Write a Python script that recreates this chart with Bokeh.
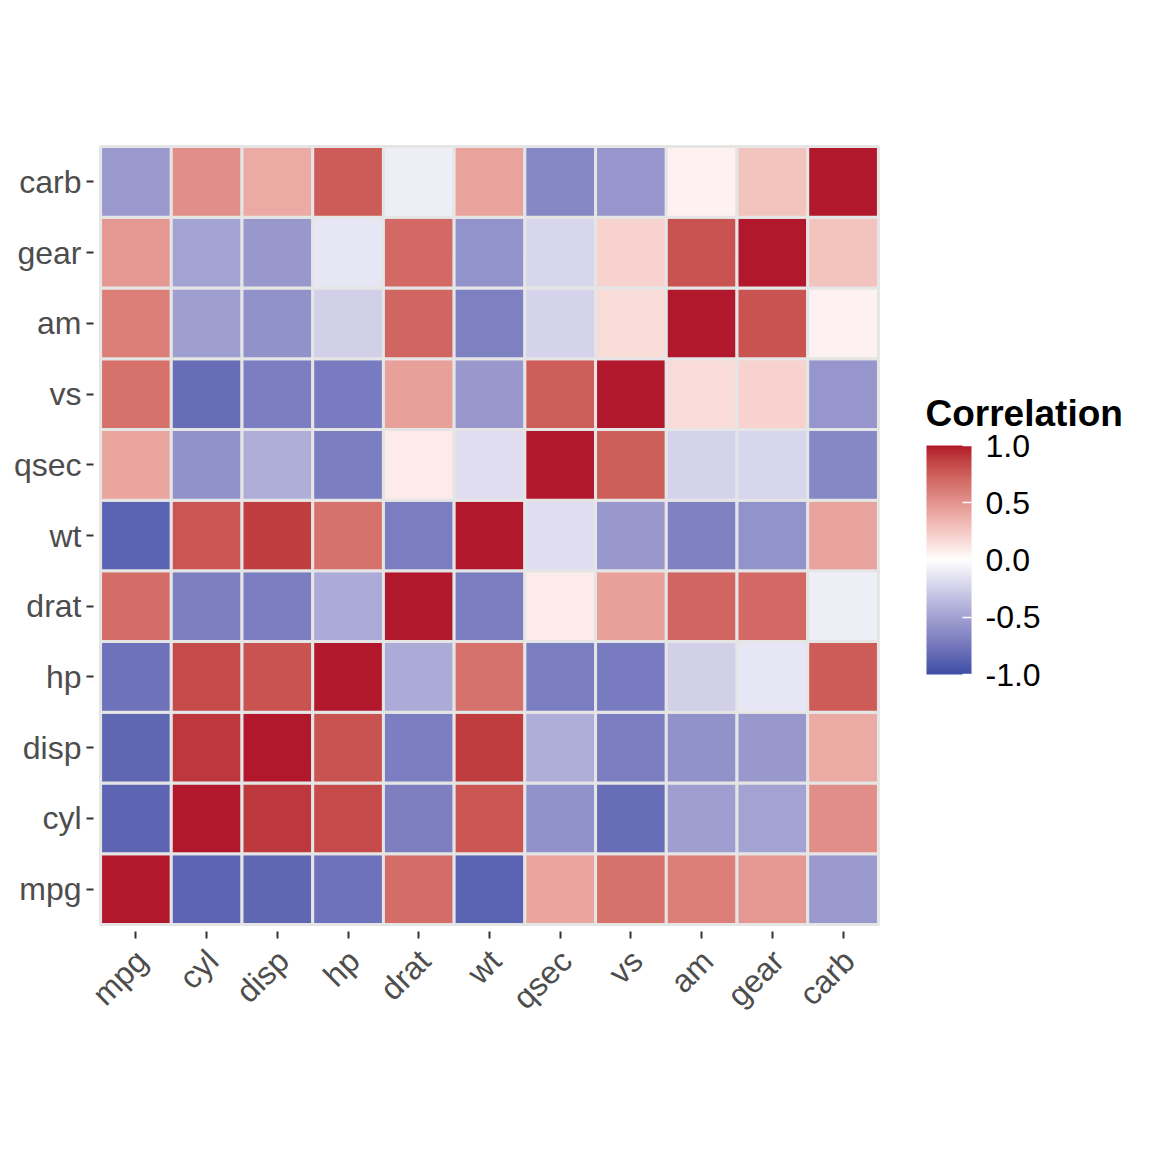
import math
from bokeh.plotting import figure
from bokeh.models import (ColumnDataSource, LinearColorMapper, ColorBar, FixedTicker,
                          PrintfTickFormatter, Range1d, LinearAxis)
from bokeh.transform import transform
from bokeh.embed import file_html
from bokeh.resources import INLINE

variables = ["mpg", "cyl", "disp", "hp", "drat", "wt", "qsec", "vs", "am", "gear", "carb"]
corr = [
    [1.000, -0.852, -0.848, -0.776, 0.681, -0.868, 0.419, 0.664, 0.600, 0.480, -0.551],
    [-0.852, 1.000, 0.902, 0.832, -0.700, 0.782, -0.591, -0.811, -0.523, -0.493, 0.527],
    [-0.848, 0.902, 1.000, 0.791, -0.710, 0.888, -0.434, -0.710, -0.591, -0.556, 0.395],
    [-0.776, 0.832, 0.791, 1.000, -0.449, 0.659, -0.708, -0.723, -0.243, -0.126, 0.750],
    [0.681, -0.700, -0.710, -0.449, 1.000, -0.712, 0.091, 0.440, 0.713, 0.700, -0.091],
    [-0.868, 0.782, 0.888, 0.659, -0.712, 1.000, -0.175, -0.555, -0.692, -0.583, 0.428],
    [0.419, -0.591, -0.434, -0.708, 0.091, -0.175, 1.000, 0.745, -0.230, -0.213, -0.656],
    [0.664, -0.811, -0.710, -0.723, 0.440, -0.555, 0.745, 1.000, 0.168, 0.206, -0.570],
    [0.600, -0.523, -0.591, -0.243, 0.713, -0.692, -0.230, 0.168, 1.000, 0.794, 0.058],
    [0.480, -0.493, -0.556, -0.126, 0.700, -0.583, -0.213, 0.206, 0.794, 1.000, 0.274],
    [-0.551, 0.527, 0.395, 0.750, -0.091, 0.428, -0.656, -0.570, 0.058, 0.274, 1.000],
]
legend_ticks = [-1.0, -0.5, 0.0, 0.5, 1.0]
legend_title = "Correlation"
low_col, mid_col, high_col = "#3D4FA6", "#FFFFFF", "#B2182B"

# ---- Lab interpolation palette (like ggplot's gradient2) ----
def hex2rgb(h):
    h = h.lstrip("#")
    return [int(h[i:i + 2], 16) / 255 for i in (0, 2, 4)]

def srgb2lin(c):
    return c / 12.92 if c <= 0.04045 else ((c + 0.055) / 1.055) ** 2.4

def lin2srgb(c):
    c = max(0.0, min(1.0, c))
    return 12.92 * c if c <= 0.0031308 else 1.055 * c ** (1 / 2.4) - 0.055

WX, WY, WZ = 0.95047, 1.0, 1.08883

def rgb2lab(h):
    r, g, b = [srgb2lin(c) for c in hex2rgb(h)]
    X = 0.4124 * r + 0.3576 * g + 0.1805 * b
    Y = 0.2126 * r + 0.7152 * g + 0.0722 * b
    Z = 0.0193 * r + 0.1192 * g + 0.9505 * b
    def f(t):
        return t ** (1 / 3) if t > 0.008856 else 7.787 * t + 16 / 116
    fx, fy, fz = f(X / WX), f(Y / WY), f(Z / WZ)
    return (116 * fy - 16, 500 * (fx - fy), 200 * (fy - fz))

def lab2hex(L, a, b):
    fy = (L + 16) / 116
    fx = fy + a / 500
    fz = fy - b / 200
    def finv(t):
        return t ** 3 if t ** 3 > 0.008856 else (t - 16 / 116) / 7.787
    X, Y, Z = WX * finv(fx), WY * finv(fy), WZ * finv(fz)
    r = 3.2406 * X - 1.5372 * Y - 0.4986 * Z
    g = -0.9689 * X + 1.8758 * Y + 0.0415 * Z
    bb = 0.0557 * X - 0.2040 * Y + 1.0570 * Z
    return "#%02x%02x%02x" % tuple(int(round(lin2srgb(c) * 255)) for c in (r, g, bb))

lo, mi, hi = rgb2lab(low_col), rgb2lab(mid_col), rgb2lab(high_col)
palette = []
N = 256
for i in range(N):
    t = i / (N - 1) * 2 - 1
    if t < 0:
        s = -t
        c = [mi[k] + (lo[k] - mi[k]) * s for k in range(3)]
    else:
        c = [mi[k] + (hi[k] - mi[k]) * t for k in range(3)]
    palette.append(lab2hex(*c))

mapper = LinearColorMapper(palette=palette, low=-1, high=1)

xs, ys, rs = [], [], []
for i, row_name in enumerate(variables):
    for j, col_name in enumerate(variables):
        xs.append(j + 1)
        ys.append(i + 1)
        rs.append(corr[i][j])
source = ColumnDataSource(dict(x=xs, y=ys, r=rs))

FONT = "Liberation Sans"
n = len(variables)
pad = 0.1
FW = 792
LEFT, TOP = 93, 139
px_per_unit = FW / (n + 2 * pad)
x0, x1 = 0.5 - pad, n + 0.5 + pad
shift = 6 / px_per_unit   # rotated labels hang right of their tick (hjust=1, vjust=1)

p = figure(frame_width=FW, frame_height=FW,
           min_border_left=LEFT, min_border_right=1136 - LEFT - FW,
           min_border_top=TOP, min_border_bottom=1136 - TOP - FW,
           x_range=Range1d(x0, x1), y_range=Range1d(x0, x1),
           output_backend="svg", toolbar_location=None, tools="")
p.extra_x_ranges = {"lab": Range1d(x0 - shift, x1 - shift)}
p.rect(x="x", y="y", width=1, height=1, source=source,
       fill_color=transform("r", mapper), line_color="#E5E5E5", line_width=3)

p.outline_line_color = None
p.xgrid.visible = False
p.ygrid.visible = False
p.background_fill_color = "white"
p.border_fill_color = "white"

ticks = list(range(1, n + 1))
labels = {t: v for t, v in zip(ticks, variables)}

def style(ax):
    ax.ticker = FixedTicker(ticks=ticks)
    ax.axis_line_color = None
    ax.major_tick_line_color = "#333333"
    ax.major_tick_line_width = 2
    ax.major_tick_out = 7
    ax.major_tick_in = 0
    ax.minor_tick_line_color = None
    ax.major_label_text_font = FONT
    ax.major_label_text_font_size = "32px"
    ax.major_label_text_color = "#4D4D4D"
    ax.major_label_standoff = 5

style(p.xaxis[0])
style(p.yaxis[0])
p.yaxis[0].major_label_overrides = labels
p.xaxis[0].major_label_overrides = {t: "" for t in ticks}
p.xaxis[0].major_label_text_font_size = "0px"
p.xaxis[0].major_label_standoff = 0

lab_axis = LinearAxis(x_range_name="lab")
style(lab_axis)
lab_axis.major_label_overrides = labels
lab_axis.major_tick_line_color = None
lab_axis.major_tick_out = 0
lab_axis.major_label_standoff = 17
lab_axis.major_label_orientation = math.pi / 4
p.add_layout(lab_axis, "below")

cb = ColorBar(color_mapper=mapper, ticker=FixedTicker(ticks=legend_ticks),
              formatter=PrintfTickFormatter(format="%.1f"),
              width=45, height=229, location=(833, 257),
              major_label_text_font=FONT, major_label_text_font_size="32px",
              major_label_text_color="black", label_standoff=14,
              major_tick_line_color="white", major_tick_line_width=1.5,
              major_tick_in=9, major_tick_out=0, minor_tick_line_color=None,
              bar_line_color=None, border_line_color=None, background_fill_color=None,
              padding=0, margin=0)
p.add_layout(cb)

# legend title: a horizontal, invisible colour bar carries the (horizontal) title text
title_bar = ColorBar(color_mapper=mapper, orientation="horizontal",
                     ticker=FixedTicker(ticks=[]), width=200, height=1,
                     location=(832, 497), scale_alpha=0,
                     title=legend_title, title_text_font=FONT, title_text_font_size="37px",
                     title_text_font_style="bold", title_text_color="black", title_standoff=0,
                     major_label_text_font_size="0px", major_tick_line_color=None,
                     minor_tick_line_color=None, bar_line_color=None,
                     border_line_color=None, background_fill_color=None,
                     padding=0, margin=0)
p.add_layout(title_bar)

open("out.html", "w").write(file_html(p, INLINE))
